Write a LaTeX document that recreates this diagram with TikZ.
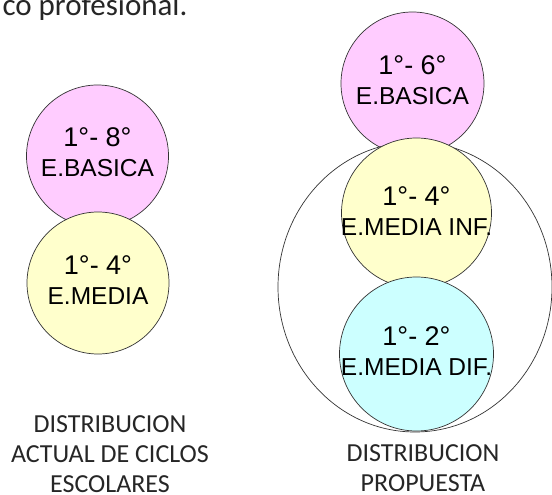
\documentclass[tikz,border=0pt]{standalone}
\usepackage{fontspec}
\setmainfont{Carlito}
\newfontfamily\arialfont{Liberation Sans}
\usetikzlibrary{shapes.geometric}
\definecolor{rosa}{RGB}{255,204,255}
\definecolor{amarillo}{RGB}{255,255,204}
\definecolor{celeste}{RGB}{204,255,255}
\tikzset{
	ciclo/.style={circle,draw=black!80,line width=0.7pt,inner sep=0pt,minimum size=#1},
	nivel/.style={align=center,inner sep=0pt,font=\arialfont\fontsize{24.5}{30}\selectfont},
	titulo/.style={align=center,font=\fontsize{26}{30}\selectfont,text=black!85}
}
\newcommand{\anio}[1]{{\fontsize{27}{30}\selectfont #1}}

\begin{document}
\begin{tikzpicture}[x=1pt,y=-1pt]
	\useasboundingbox (0,0) rectangle (552,495);
	\node[anchor=base west,font=\fontsize{31}{34}\selectfont,text=black!85] (texto) at (-1,16) {co profesional.};
	% distribucion actual
	\node[ciclo=142,fill=rosa] (basica) at (97.5,156) {};
	\node[ciclo=142,fill=amarillo] (media) at (98,283) {};
	\node[nivel] (basicaT) at ([yshift=4pt]basica.center) {\anio{1°- 8°}\\E.BASICA};
	\node[nivel] (mediaT) at ([yshift=3pt]media.center) {\anio{1°- 4°}\\E.MEDIA};
	\node[titulo] (actual) at (110,454) {DISTRIBUCION\\ACTUAL DE CICLOS\\ESCOLARES};
	% distribucion propuesta
	\node[ciclo=143,fill=rosa] (basicaP) at (412.5,83.5) {};
	\node[nivel] (basicaPT) at ([yshift=3pt]basicaP.center) {\anio{1°- 6°}\\E.BASICA};
	\node[ellipse,draw=black!80,line width=0.7pt,minimum width=274pt,minimum height=290pt] (ciclo) at (415,287) {};
	\node[ciclo=150,fill=amarillo] (mediaInf) at (416.5,213) {};
	\node[nivel] (mediaInfT) at ([yshift=2pt]mediaInf.center) {\anio{1°- 4°}\\E.MEDIA INF.};
	\node[ciclo=154,fill=celeste] (mediaDif) at (416.5,354) {};
	\node[nivel] (mediaDifT) at ([yshift=3pt]mediaDif.center) {\anio{1°- 2°}\\E.MEDIA DIF.};
	\node[titulo] (propuesta) at (423,468) {DISTRIBUCION\\PROPUESTA};
\end{tikzpicture}
\end{document}
